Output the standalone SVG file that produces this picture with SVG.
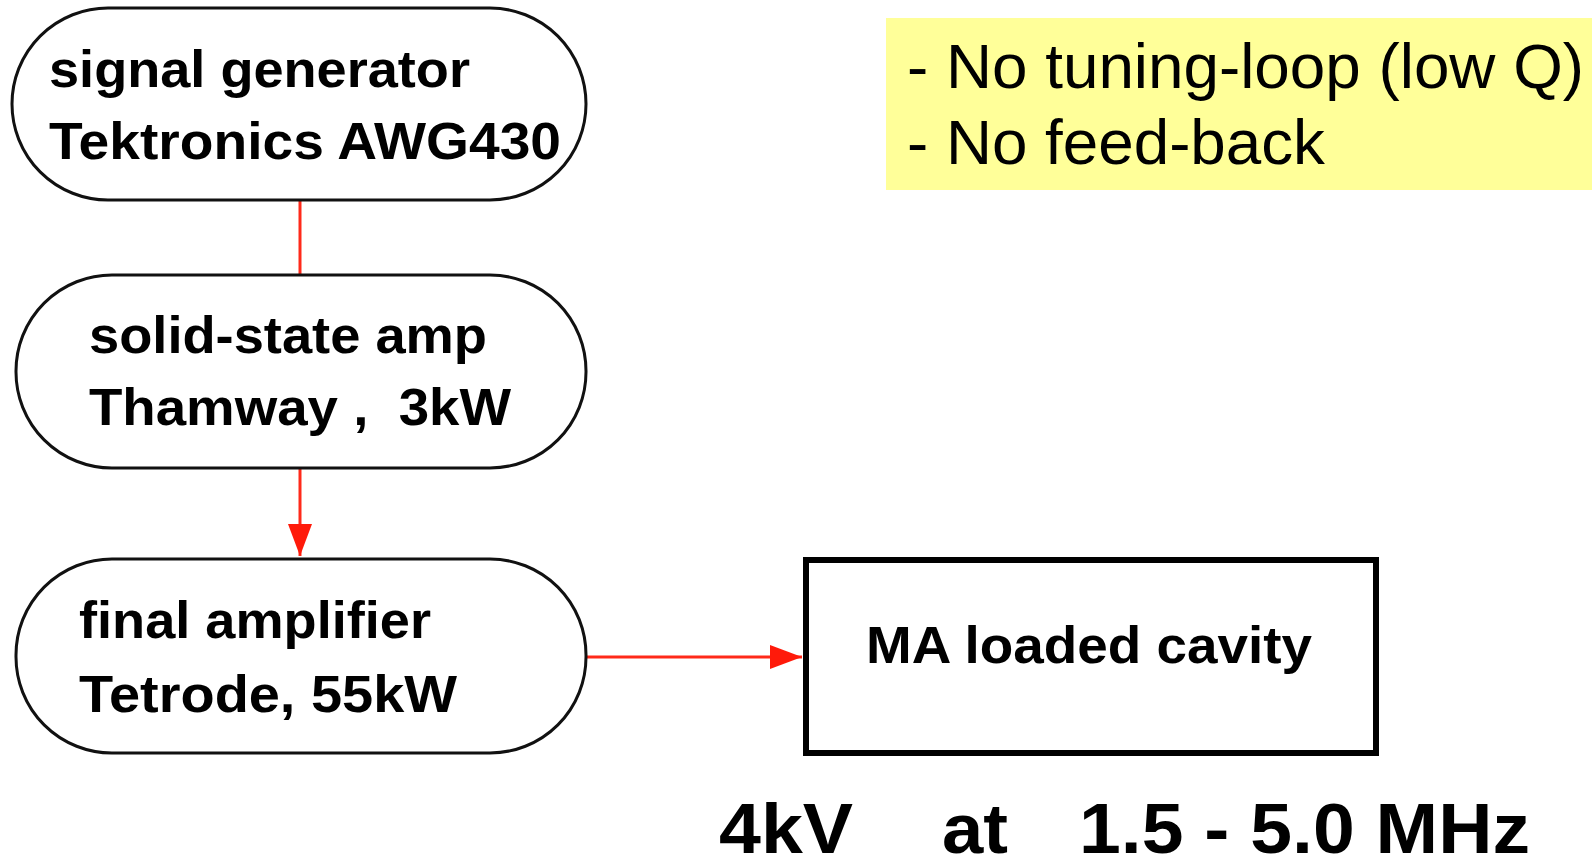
<svg xmlns="http://www.w3.org/2000/svg" width="1592" height="858" viewBox="0 0 1592 858">
<style>
.node{fill:#fff;stroke:#111;stroke-width:3}
.box{fill:#fff;stroke:#000;stroke-width:6}
.t{font-family:"Liberation Sans",Arial,sans-serif;font-weight:bold;font-size:52px;fill:#000;white-space:pre}
.note{font-family:"Liberation Sans",Arial,sans-serif;font-size:63px;fill:#000}
.big{font-family:"Liberation Sans",Arial,sans-serif;font-weight:bold;font-size:70px;fill:#000}
.conn{stroke:#ff2a1a;stroke-width:3;fill:none}
</style>
<defs>
<marker id="arr" markerUnits="userSpaceOnUse" markerWidth="34" markerHeight="26" refX="32" refY="12" orient="auto">
<path d="M0,0 L32,12 L0,24 z" fill="#ff1a0a"/>
</marker>
</defs>
<rect x="886" y="18" width="706" height="172" fill="#ffff99"/>
<text class="note" x="907" y="88" textLength="677" lengthAdjust="spacingAndGlyphs">- No tuning-loop (low Q)</text>
<text class="note" x="907" y="164" textLength="418" lengthAdjust="spacingAndGlyphs">- No feed-back</text>
<g id="connectors">
<line class="conn" x1="300" y1="200" x2="300" y2="275"/>
<line class="conn" x1="300" y1="468" x2="300" y2="556" marker-end="url(#arr)"/>
<line class="conn" x1="586" y1="657" x2="802" y2="657" marker-end="url(#arr)"/>
</g>
<g id="signal-generator">
<rect class="node" x="12" y="8" width="574" height="192" rx="96" ry="96"/>
<text class="t" x="49" y="87" textLength="421" lengthAdjust="spacingAndGlyphs">signal generator</text>
<text class="t" x="49" y="159" textLength="512" lengthAdjust="spacingAndGlyphs">Tektronics AWG430</text>
</g>
<g id="solid-state-amp">
<rect class="node" x="16" y="275" width="570" height="193" rx="96" ry="96"/>
<text class="t" x="89" y="353" textLength="398" lengthAdjust="spacingAndGlyphs">solid-state amp</text>
<text class="t" x="89" y="425" textLength="422" lengthAdjust="spacingAndGlyphs">Thamway ,  3kW</text>
</g>
<g id="final-amplifier">
<rect class="node" x="16" y="559" width="570" height="194" rx="96" ry="96"/>
<text class="t" x="79" y="638" textLength="352" lengthAdjust="spacingAndGlyphs">final amplifier</text>
<text class="t" x="79" y="712" textLength="378" lengthAdjust="spacingAndGlyphs">Tetrode, 55kW</text>
</g>
<g id="ma-cavity">
<rect class="box" x="806" y="560" width="570" height="193"/>
<text class="t" x="866" y="663" textLength="446" lengthAdjust="spacingAndGlyphs">MA loaded cavity</text>
</g>
<text class="big" x="719" y="853" textLength="134" lengthAdjust="spacingAndGlyphs">4kV</text>
<text class="big" x="942" y="853" textLength="66" lengthAdjust="spacingAndGlyphs">at</text>
<text class="big" x="1079" y="853" textLength="451" lengthAdjust="spacingAndGlyphs">1.5 - 5.0 MHz</text>
</svg>
